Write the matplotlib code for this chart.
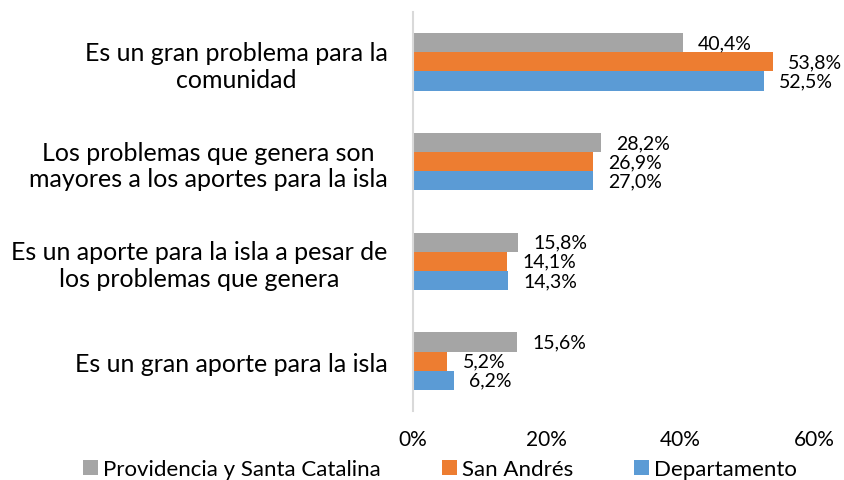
import matplotlib
matplotlib.use("Agg")
import matplotlib.pyplot as plt
import numpy as np

plt.rcParams['font.family'] = ['Lato', 'DejaVu Sans']

categories = [
    "Es un gran problema para la\ncomunidad",
    "Los problemas que genera son\nmayores a los aportes para la isla",
    "Es un aporte para la isla a pesar de\nlos problemas que genera",
    "Es un gran aporte para la isla",
]
series_names = ["Providencia y Santa Catalina", "San Andrés", "Departamento"]
providencia = [40.4, 28.2, 15.8, 15.6]
san_andres = [53.8, 26.9, 14.1, 5.2]
departamento = [52.5, 27.0, 14.3, 6.2]
x_ticks = [0, 20, 40, 60]
x_tick_labels = ["0%", "20%", "40%", "60%"]

colors = ["#A5A5A5", "#ED7D31", "#5B9BD5"]
series = [providencia, san_andres, departamento]

fig = plt.figure(figsize=(8.44, 4.81), dpi=100)
ax = fig.add_axes([412.7 / 844, 1 - 412 / 481, (814 - 412.7) / 844, (412 - 13) / 481])

h = 0.192
y = np.arange(len(categories))
for i, (vals, col, name) in enumerate(zip(series, colors, series_names)):
    ys = y + (i - 1) * h
    ax.barh(ys, vals, height=h, color=col, label=name, edgecolor='none')
    for yy, v in zip(ys, vals):
        ax.annotate(f"{v:.1f}".replace(".", ",") + "%", xy=(v, yy), xytext=(11, 0),
                    textcoords='offset points', ha='left', va='center',
                    fontsize=14, color='#000000')

ax.set_xlim(0, 60)
ax.set_ylim(len(categories) - 0.5, -0.5)
ax.set_xticks(x_ticks)
ax.set_xticklabels(x_tick_labels, fontsize=15)
ax.set_yticks(y)
ax.set_yticklabels(categories, fontsize=18, multialignment='center')
ax.tick_params(axis='both', length=0)
ax.tick_params(axis='y', pad=18)
ax.tick_params(axis='x', pad=13)
for s in ['top', 'right', 'bottom']:
    ax.spines[s].set_visible(False)
ax.spines['left'].set_color('#D9D9D9')
ax.spines['left'].set_linewidth(1.5)

leg = fig.legend(loc='center', bbox_to_anchor=(440 / 844, 1 - 470 / 481), ncol=3,
                 frameon=False, fontsize=16, handlelength=0.68, handleheight=0.68,
                 handletextpad=0.22, columnspacing=2.75, borderaxespad=0)

fig.savefig("out.png", dpi=100)
